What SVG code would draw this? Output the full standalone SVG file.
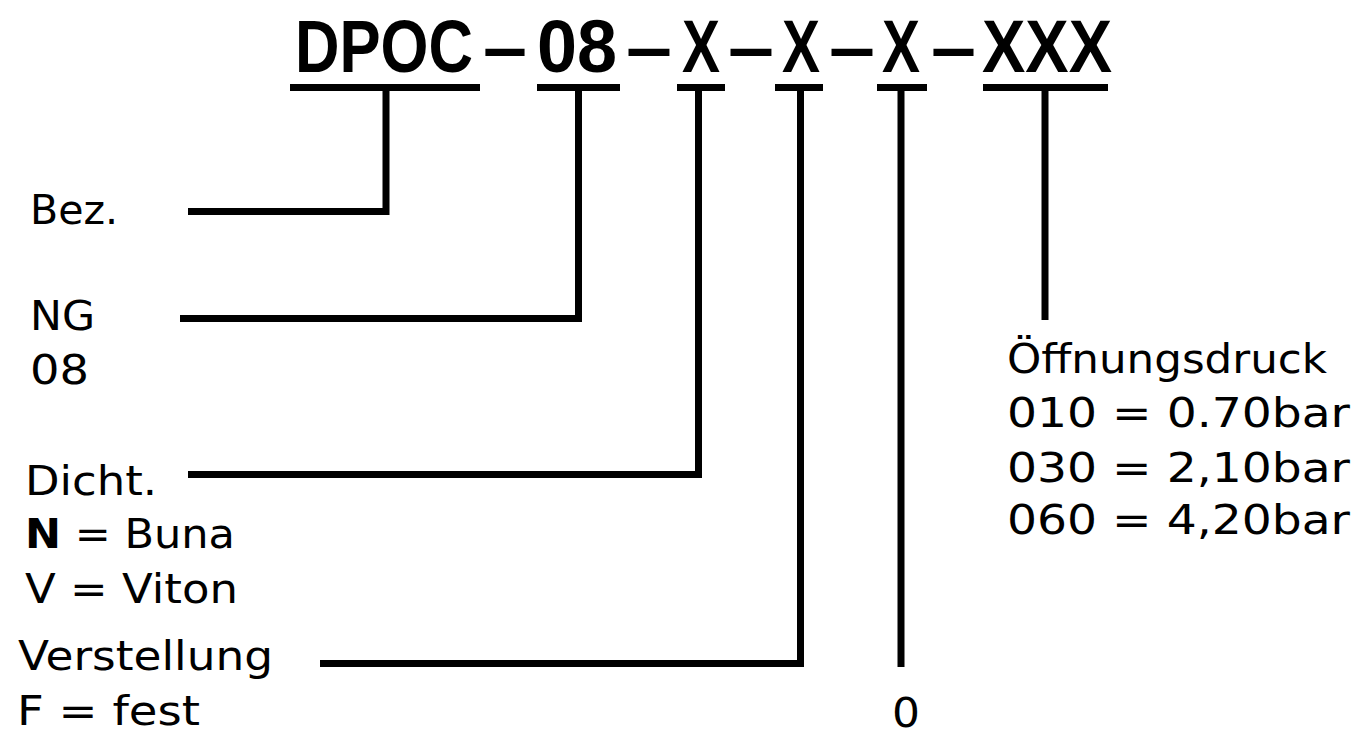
<svg xmlns="http://www.w3.org/2000/svg" width="1365" height="733" viewBox="0 0 1365 733">
<style>
.t{font-family:"Liberation Sans","DejaVu Sans",Arial,sans-serif;font-weight:bold;font-size:75px;fill:#000}
.l{font-family:"DejaVu Sans","Liberation Sans",sans-serif;font-size:40px;fill:#000}
.bar{fill:#000}
.c{fill:none;stroke:#000;stroke-width:7;stroke-linejoin:miter;stroke-linecap:butt}
</style>
<rect width="1365" height="733" fill="#fff"/>
<g id="title">
<text class="t" y="72"><tspan x="295" textLength="178" lengthAdjust="spacingAndGlyphs">DPOC</tspan><tspan x="483" textLength="44" lengthAdjust="spacingAndGlyphs">–</tspan><tspan x="537" textLength="80" lengthAdjust="spacingAndGlyphs">08</tspan><tspan x="626" textLength="46" lengthAdjust="spacingAndGlyphs">–</tspan><tspan x="682" textLength="38" lengthAdjust="spacingAndGlyphs">X</tspan><tspan x="728" textLength="46" lengthAdjust="spacingAndGlyphs">–</tspan><tspan x="782" textLength="38" lengthAdjust="spacingAndGlyphs">X</tspan><tspan x="829" textLength="46" lengthAdjust="spacingAndGlyphs">–</tspan><tspan x="882" textLength="38" lengthAdjust="spacingAndGlyphs">X</tspan><tspan x="931" textLength="45" lengthAdjust="spacingAndGlyphs">–</tspan><tspan x="982" textLength="130" lengthAdjust="spacingAndGlyphs">XXX</tspan></text>
<rect class="bar" x="290" y="84" width="190" height="7"/>
<rect class="bar" x="537" y="84" width="83" height="7"/>
<rect class="bar" x="677" y="84" width="48" height="7"/>
<rect class="bar" x="775" y="84" width="48" height="7"/>
<rect class="bar" x="877" y="84" width="50" height="7"/>
<rect class="bar" x="983" y="84" width="125" height="7"/>
</g>
<g id="connectors">
<path class="c" d="M386,88 V211.5 H188"/>
<path class="c" d="M578.5,88 V318.5 H180"/>
<path class="c" d="M698.5,88 V474.5 H188"/>
<path class="c" d="M800.5,88 V663.5 H320"/>
<path class="c" d="M901,88 V667"/>
<path class="c" d="M1045,88 V320"/>
</g>
<g id="bez">
<text class="l" x="30" y="224" textLength="88" lengthAdjust="spacingAndGlyphs">Bez.</text>
</g>
<g id="ng">
<text class="l" x="30" y="330" textLength="65" lengthAdjust="spacingAndGlyphs">NG</text>
<text class="l" x="30" y="384" textLength="59" lengthAdjust="spacingAndGlyphs">08</text>
</g>
<g id="dicht">
<text class="l" x="25" y="495" textLength="132" lengthAdjust="spacingAndGlyphs">Dicht.</text>
<text class="l" x="25" y="548" textLength="210" lengthAdjust="spacingAndGlyphs"><tspan font-weight="bold">N</tspan> = Buna</text>
<text class="l" x="25" y="603" textLength="213" lengthAdjust="spacingAndGlyphs">V = Viton</text>
</g>
<g id="verstellung">
<text class="l" x="18" y="670" textLength="255" lengthAdjust="spacingAndGlyphs">Verstellung</text>
<text class="l" x="17" y="725" textLength="183" lengthAdjust="spacingAndGlyphs">F = fest</text>
</g>
<g id="zero">
<text class="l" x="892" y="727" font-size="38" textLength="28" lengthAdjust="spacingAndGlyphs">0</text>
</g>
<g id="oeffnungsdruck">
<text class="l" x="1007" y="373" textLength="320" lengthAdjust="spacingAndGlyphs">Öffnungsdruck</text>
<text class="l" x="1007" y="427" textLength="343" lengthAdjust="spacingAndGlyphs">010 = 0.70bar</text>
<text class="l" x="1007" y="482" textLength="343" lengthAdjust="spacingAndGlyphs">030 = 2,10bar</text>
<text class="l" x="1007" y="534" textLength="343" lengthAdjust="spacingAndGlyphs">060 = 4,20bar</text>
</g>
</svg>
